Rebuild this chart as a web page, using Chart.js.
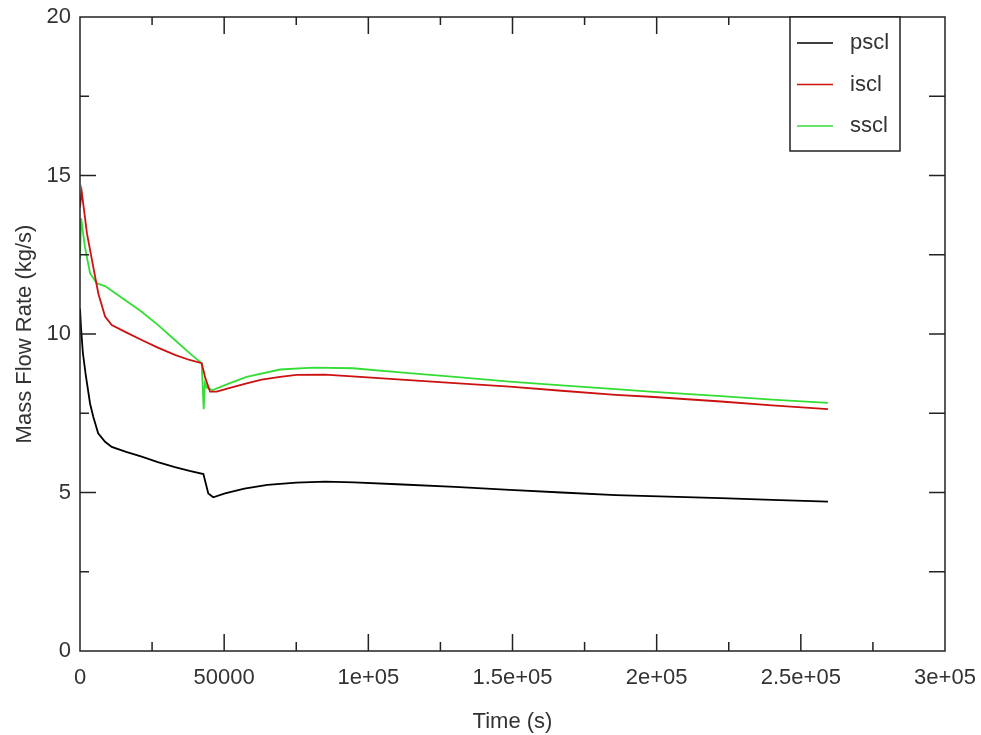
<!DOCTYPE html>
<html>
<head>
<meta charset="utf-8">
<title>Mass Flow Rate</title>
<script src="https://cdn.jsdelivr.net/npm/chart.js@4.4.1/dist/chart.umd.min.js"></script>
<style>
  html, body { margin: 0; padding: 0; background: #fff; }
  #wrap { width: 981px; height: 735px; }
</style>
</head>
<body>
<div id="wrap"><canvas id="myChart" width="981" height="735"></canvas></div>
<script>
// Series names as in the legend
var seriesNames = ["pscl", "iscl", "sscl"];

// pscl (black)
var timePscl = [0, 350, 1000, 2000, 3500, 4600, 6300, 8700, 11000, 16000, 21400, 27000, 32900, 38000, 42800,
    44500, 46200, 50300, 57000, 65000, 75000, 85000, 95000, 110000, 130000, 149000, 167000, 185800, 204000,
    222300, 240000, 259400];
var flowPscl = [10.8, 10.2, 9.4, 8.7, 7.8, 7.39, 6.87, 6.60, 6.44, 6.28, 6.13, 5.96, 5.80, 5.68, 5.58,
    4.97, 4.85, 4.97, 5.12, 5.24, 5.31, 5.34, 5.32, 5.26, 5.18, 5.08, 5.00, 4.92, 4.87,
    4.82, 4.77, 4.71];

// iscl (red)
var timeIscl = [0, 600, 2400, 4600, 6350, 8700, 11000, 16000, 21400, 27000, 32900, 38000, 42200, 43500,
    45100, 47400, 52000, 57800, 63000, 69400, 75100, 85000, 97100, 112800, 130000, 149000, 167000, 185800,
    197700, 222300, 240000, 259400];
var flowIscl = [14.0, 14.49, 13.18, 12.12, 11.28, 10.55, 10.28, 10.05, 9.81, 9.57, 9.34, 9.18, 9.08, 8.6,
    8.18, 8.18, 8.30, 8.44, 8.56, 8.65, 8.71, 8.72, 8.65, 8.55, 8.45, 8.34, 8.21, 8.08,
    8.02, 7.87, 7.75, 7.63];

// sscl (green)
var timeSscl = [0, 400, 1700, 3500, 5800, 8700, 15600, 21400, 27100, 32900, 38700, 42200, 42900, 43300,
    44000, 46000, 52000, 57800, 69400, 80800, 94700, 110000, 130000, 149000, 167000, 185800, 197700,
    222300, 240000, 259400];
var flowSscl = [12.4, 13.65, 12.75, 11.91, 11.6, 11.51, 11.07, 10.70, 10.28, 9.81, 9.34, 9.08, 7.63, 8.45,
    8.3, 8.23, 8.45, 8.65, 8.88, 8.94, 8.92, 8.80, 8.65, 8.50, 8.38, 8.26, 8.18,
    8.04, 7.93, 7.83];

// Axis ticks
var xTickLabels = ["0", "50000", "1e+05", "1.5e+05", "2e+05", "2.5e+05", "3e+05"];
var xMajorTicks = [50000, 100000, 150000, 200000, 250000];
var xMinorTicks = [25000, 75000, 125000, 175000, 225000, 275000];
var yTickLabels = ["0", "5", "10", "15", "20"];
var yMajorTicks = [5, 10, 15];
var yMinorTicks = [2.5, 7.5, 12.5, 17.5];

function toPoints(xs, ys) {
    return xs.map(function (x, i) {
        return { x: x, y: ys[i] };
    });
}

// Draws the box round the plot, the inward tick marks and the legend box
var framePlugin = {
    id: "frame",
    afterDatasetsDraw: function (chart) {
        var ctx = chart.ctx;
        var a = chart.chartArea;
        var xs = chart.scales.x;
        var ys = chart.scales.y;
        ctx.save();
        ctx.strokeStyle = "#222";
        ctx.lineWidth = 1.5;
        ctx.strokeRect(a.left, a.top, a.right - a.left, a.bottom - a.top);

        ctx.beginPath();
        xMajorTicks.forEach(function (v) {
            var px = xs.getPixelForValue(v);
            ctx.moveTo(px, a.bottom); ctx.lineTo(px, a.bottom - 17);
            ctx.moveTo(px, a.top); ctx.lineTo(px, a.top + 17);
        });
        xMinorTicks.forEach(function (v) {
            var px = xs.getPixelForValue(v);
            ctx.moveTo(px, a.bottom); ctx.lineTo(px, a.bottom - 9);
            ctx.moveTo(px, a.top); ctx.lineTo(px, a.top + 8);
        });
        yMajorTicks.forEach(function (v) {
            var py = ys.getPixelForValue(v);
            ctx.moveTo(a.left, py); ctx.lineTo(a.left + 16, py);
            ctx.moveTo(a.right, py); ctx.lineTo(a.right - 16, py);
        });
        yMinorTicks.forEach(function (v) {
            var py = ys.getPixelForValue(v);
            ctx.moveTo(a.left, py); ctx.lineTo(a.left + 9, py);
            ctx.moveTo(a.right, py); ctx.lineTo(a.right - 16, py);
        });
        ctx.stroke();

        // Legend in the top right corner
        var boxLeft = a.right - 155;
        var boxRight = a.right - 45;
        ctx.fillStyle = "#fff";
        ctx.fillRect(boxLeft, a.top, boxRight - boxLeft, 134);
        ctx.strokeRect(boxLeft, a.top, boxRight - boxLeft, 134);
        ctx.font = "22px 'Liberation Sans', Arial, sans-serif";
        ctx.textBaseline = "middle";
        chart.data.datasets.forEach(function (ds, i) {
            var rowY = a.top + 26 + i * 41.5;
            ctx.strokeStyle = ds.borderColor;
            ctx.lineWidth = 1.5;
            ctx.beginPath();
            ctx.moveTo(boxLeft + 7, rowY);
            ctx.lineTo(boxLeft + 43, rowY);
            ctx.stroke();
            ctx.fillStyle = "#333";
            ctx.fillText(ds.label, boxLeft + 60, rowY);
        });
        ctx.restore();
    }
};

function displayGraph() {
    Chart.defaults.font.family = "'Liberation Sans', Arial, sans-serif";
    Chart.defaults.font.size = 22;
    Chart.defaults.color = "#333";

    var ctx = document.getElementById("myChart").getContext("2d");
    this.chart = new Chart(ctx, {
        type: "line",
        data: {
            datasets: [
                {
                    label: seriesNames[0],
                    borderColor: "#000000",
                    borderWidth: 1.8,
                    pointRadius: 0,
                    fill: false,
                    data: toPoints(timePscl, flowPscl)
                },
                {
                    label: seriesNames[1],
                    borderColor: "#cc1111",
                    borderWidth: 1.8,
                    pointRadius: 0,
                    fill: false,
                    data: toPoints(timeIscl, flowIscl)
                },
                {
                    label: seriesNames[2],
                    borderColor: "#33dd33",
                    borderWidth: 1.8,
                    pointRadius: 0,
                    fill: false,
                    data: toPoints(timeSscl, flowSscl)
                }
            ]
        },
        options: {
            responsive: false,
            animation: false,
            devicePixelRatio: 1,
            layout: { padding: { top: 17, right: 36, left: 0, bottom: 0 } },
            plugins: {
                legend: { display: false },
                tooltip: { enabled: false }
            },
            scales: {
                x: {
                    type: "linear",
                    min: 0,
                    max: 300000,
                    grid: { display: false, drawTicks: false },
                    border: { display: false },
                    ticks: {
                        stepSize: 50000,
                        padding: 14,
                        maxRotation: 0,
                        callback: function (value, index) {
                            return xTickLabels[index];
                        }
                    },
                    title: { display: true, text: "Time (s)", padding: { top: 0, bottom: 0 } },
                    afterFit: function (scale) {
                        scale.height = 84;
                        scale.paddingLeft = 0;
                        scale.paddingRight = 0;
                    }
                },
                y: {
                    type: "linear",
                    min: 0,
                    max: 20,
                    grid: { display: false, drawTicks: false },
                    border: { display: false },
                    ticks: {
                        stepSize: 5,
                        padding: 9,
                        callback: function (value, index) {
                            return yTickLabels[index];
                        }
                    },
                    title: { display: true, text: "Mass Flow Rate (kg/s)", padding: { top: 12, bottom: 0 } },
                    afterFit: function (scale) {
                        scale.width = 80;
                        scale.paddingTop = 0;
                        scale.paddingBottom = 0;
                    }
                }
            }
        },
        plugins: [framePlugin]
    });
}

displayGraph();
</script>
</body>
</html>
